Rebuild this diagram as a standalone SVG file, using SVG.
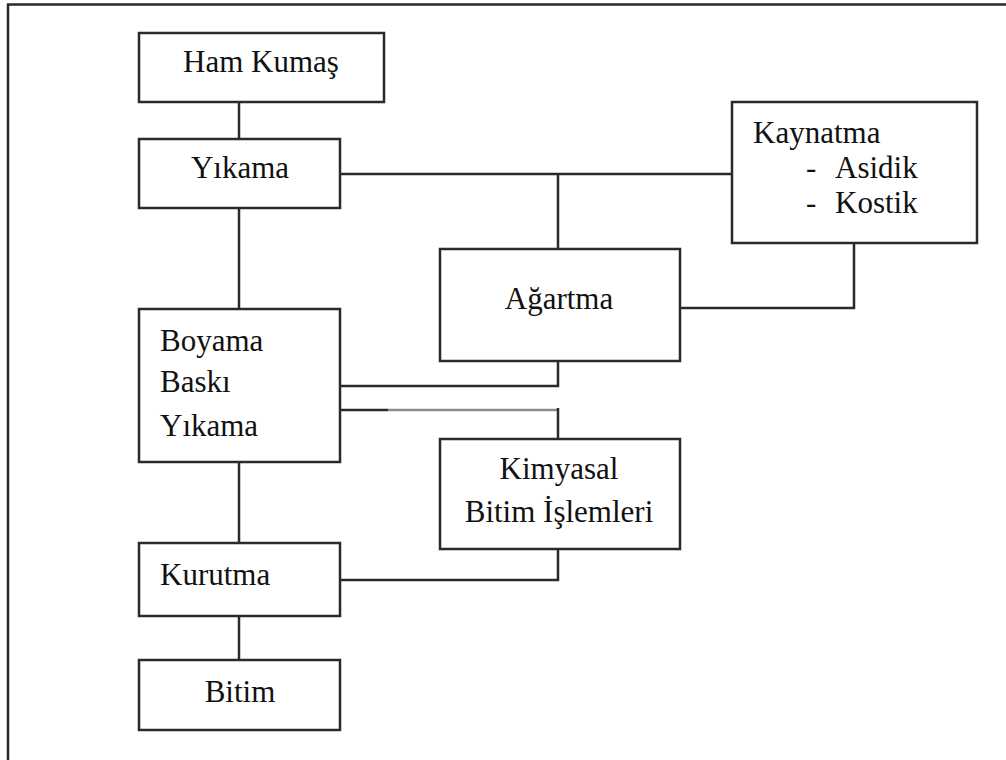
<svg xmlns="http://www.w3.org/2000/svg" width="1006" height="760" viewBox="0 0 1006 760">
<style>
.box{fill:#fff;stroke:#2a2a2a;stroke-width:2.5}
.ln{fill:none;stroke:#2a2a2a;stroke-width:2.5}
.lt{fill:none;stroke:#8c8c8c;stroke-width:2.5}
text{font-family:"Liberation Serif","Times New Roman",serif;font-size:31px;fill:#111}
.c{text-anchor:middle}
</style>
<rect width="1006" height="760" fill="#fff"/>
<path class="ln" d="M8,760 V4.5 H1006" stroke-width="3"/>
<g id="connectors">
<path class="ln" d="M239,102 V139"/>
<path class="ln" d="M239,208 V309"/>
<path class="ln" d="M340,174 H732"/>
<path class="ln" d="M558,174 V249"/>
<path class="ln" d="M854,243 V308 H680"/>
<path class="ln" d="M340,386 H558 V361"/>
<path class="ln" d="M340,410 H388"/>
<path class="lt" d="M388,410 H558"/>
<path class="ln" d="M558,408 V439"/>
<path class="ln" d="M239,462 V543"/>
<path class="ln" d="M340,580 H558 V549"/>
<path class="ln" d="M239,616 V660"/>
</g>
<g id="ham-kumas">
<rect class="box" x="139" y="33" width="245" height="69"/>
<text class="c" x="261" y="72">Ham Kumaş</text>
</g>
<g id="yikama">
<rect class="box" x="139" y="139" width="201" height="69"/>
<text class="c" x="240" y="178">Yıkama</text>
</g>
<g id="kaynatma">
<rect class="box" x="732" y="102" width="245" height="141"/>
<text x="753" y="143">Kaynatma</text>
<text x="806" y="178">-</text>
<text x="835" y="178">Asidik</text>
<text x="806" y="213">-</text>
<text x="835" y="213">Kostik</text>
</g>
<g id="agartma">
<rect class="box" x="440" y="249" width="240" height="112"/>
<text class="c" x="559" y="309">Ağartma</text>
</g>
<g id="boyama">
<rect class="box" x="139" y="309" width="201" height="153"/>
<text x="160" y="351">Boyama</text>
<text x="160" y="392">Baskı</text>
<text x="160" y="436">Yıkama</text>
</g>
<g id="kimyasal">
<rect class="box" x="440" y="439" width="240" height="110"/>
<text class="c" x="559" y="479">Kimyasal</text>
<text class="c" x="559" y="522">Bitim İşlemleri</text>
</g>
<g id="kurutma">
<rect class="box" x="139" y="543" width="201" height="73"/>
<text x="160" y="585">Kurutma</text>
</g>
<g id="bitim">
<rect class="box" x="139" y="660" width="201" height="70"/>
<text class="c" x="240" y="702">Bitim</text>
</g>
</svg>
